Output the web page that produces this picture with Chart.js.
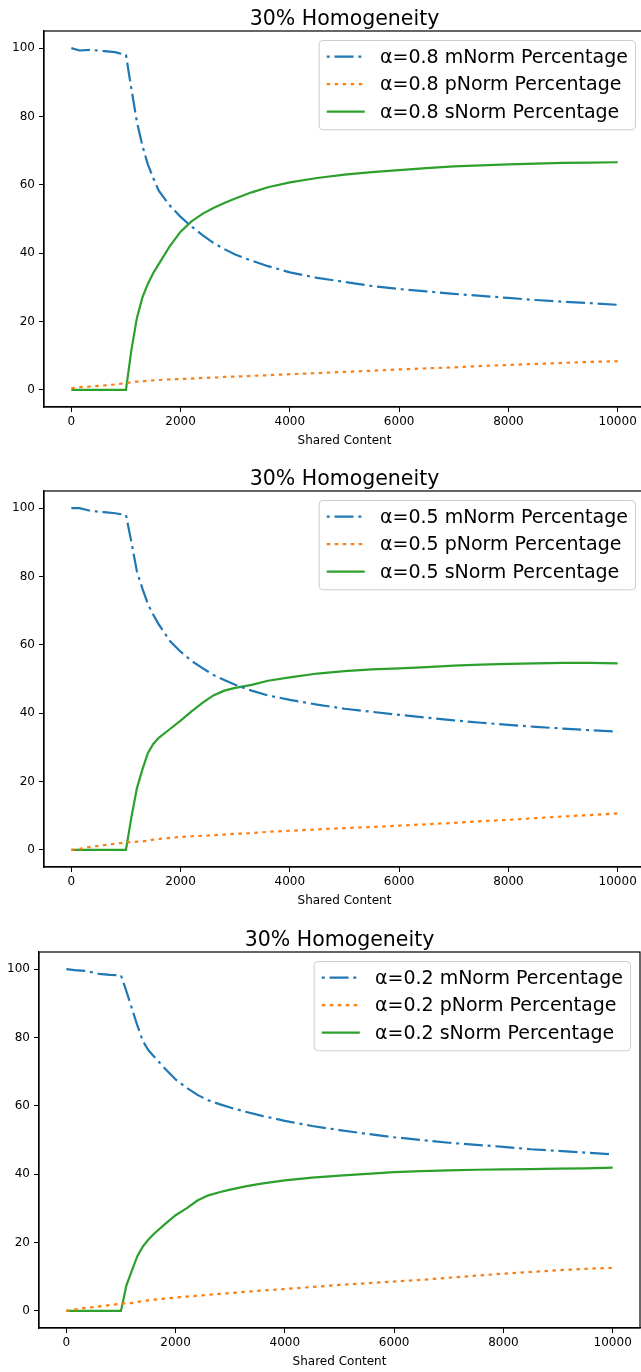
<!DOCTYPE html>
<html>
<head>
<meta charset="utf-8">
<script src="https://cdn.jsdelivr.net/npm/chart.js@4/dist/chart.umd.min.js"></script>
<style>
  body { margin: 0; width: 641px; height: 1372px; overflow: hidden; background: #fff; }
  canvas { position: absolute; }
</style>
</head>
<body>
<canvas id="c1" width="650" height="455" style="left:0;top:0"></canvas>
<canvas id="c2" width="650" height="455" style="left:0;top:460px"></canvas>
<canvas id="c3" width="650" height="455" style="left:-5px;top:921px"></canvas>
<script>
// shared x positions (Shared Content)
const sharedContent = [0, 150, 350, 600, 800, 1000, 1100, 1200, 1300, 1400, 1500, 1600, 1800, 2000, 2200, 2400, 2600, 2800, 3000, 3300, 3600, 4000, 4500, 5000, 5500, 6000, 6500, 7000, 7500, 8000, 8500, 9000, 9500, 10000];

// alpha = 0.8
const m08 = [100, 99.3, 99.5, 99.1, 98.8, 98.0, 88, 78.5, 71.5, 66, 62, 58.3, 54, 50.6, 47.8, 45.3, 43, 41.2, 39.6, 37.8, 36.2, 34.4, 32.8, 31.6, 30.4, 29.5, 28.8, 28.1, 27.5, 26.9, 26.3, 25.8, 25.4, 24.9];
const p08 = [0.5, 0.8, 1.0, 1.3, 1.6, 2.0, 2.2, 2.4, 2.5, 2.7, 2.8, 2.9, 3.1, 3.2, 3.3, 3.5, 3.6, 3.8, 3.9, 4.1, 4.3, 4.6, 4.9, 5.3, 5.6, 6.0, 6.3, 6.6, 7.0, 7.3, 7.6, 7.9, 8.2, 8.4];
const s08 = [0, 0, 0, 0, 0, 0, 11.7, 21, 27, 31, 34.2, 36.8, 42, 46.3, 49.3, 51.5, 53.2, 54.7, 56, 57.8, 59.3, 60.7, 62, 63, 63.7, 64.3, 64.9, 65.4, 65.7, 66, 66.2, 66.4, 66.5, 66.6];

// alpha = 0.5
const m05 = [100, 100, 99.2, 98.8, 98.5, 98, 90, 81.5, 76.5, 72, 68.8, 66, 61.2, 58, 55.3, 53.2, 51.2, 49.7, 48.3, 46.6, 45.2, 43.9, 42.5, 41.3, 40.4, 39.5, 38.7, 37.9, 37.2, 36.6, 36, 35.5, 35, 34.6];
const p05 = [0, 0.3, 0.9, 1.4, 1.8, 2.2, 2.3, 2.4, 2.5, 2.7, 3.0, 3.2, 3.5, 3.8, 4.0, 4.1, 4.3, 4.5, 4.7, 4.9, 5.3, 5.6, 6.0, 6.4, 6.7, 7.1, 7.5, 7.9, 8.4, 8.8, 9.3, 9.8, 10.2, 10.7];
const s05 = [0, 0, 0, 0, 0, 0, 9.6, 18, 23.5, 28.3, 31, 32.8, 35.3, 37.8, 40.5, 43, 45.2, 46.6, 47.4, 48.3, 49.5, 50.5, 51.6, 52.3, 52.8, 53.1, 53.5, 53.9, 54.2, 54.4, 54.6, 54.7, 54.7, 54.6];

// alpha = 0.2
const m02 = [100, 99.7, 99.5, 98.6, 98.3, 98.2, 93.5, 88.5, 83.5, 79, 76.3, 74.5, 71, 67.7, 65.3, 63.2, 61.6, 60.5, 59.5, 58.2, 57, 55.6, 54.1, 52.9, 51.8, 50.8, 50, 49.2, 48.6, 48, 47.3, 46.8, 46.3, 45.8];
const p02 = [0, 0.4, 0.9, 1.3, 1.7, 2.1, 2.2, 2.3, 2.6, 2.9, 3.1, 3.3, 3.6, 3.9, 4.2, 4.4, 4.7, 5.0, 5.2, 5.6, 6.0, 6.4, 7.0, 7.6, 8.1, 8.6, 9.1, 9.7, 10.3, 10.9, 11.4, 11.9, 12.3, 12.6];
const s02 = [0, 0, 0, 0, 0, 0, 7.5, 11.8, 16, 18.8, 20.8, 22.5, 25.3, 28, 30, 32.3, 33.8, 34.7, 35.5, 36.5, 37.3, 38.2, 39, 39.6, 40.1, 40.6, 40.9, 41.1, 41.3, 41.4, 41.5, 41.6, 41.7, 41.9];

const alphas = ["0.8", "0.5", "0.2"];
const xTicks = [0, 2000, 4000, 6000, 8000, 10000];
const yTicks = [0, 20, 40, 60, 80, 100];
const chartTitle = "30% Homogeneity";
const xTitle = "Shared Content";

Chart.defaults.font.family = '"DejaVu Sans", sans-serif';
Chart.defaults.font.size = 12;
Chart.defaults.color = "#000";

const toPoints = (ys) => sharedContent.map((x, i) => ({ x: x, y: ys[i] }));

const frameAndTitle = {
  id: "frameAndTitle",
  afterDraw(chart) {
    const { ctx, chartArea } = chart;
    ctx.save();
    ctx.strokeStyle = "#000";
    ctx.lineWidth = 1.2;
    ctx.strokeRect(chartArea.left, chartArea.top, chartArea.right - chartArea.left, chartArea.bottom - chartArea.top);
    ctx.font = '20.5px "DejaVu Sans"';
    ctx.fillStyle = "#000";
    ctx.textAlign = "center";
    ctx.textBaseline = "alphabetic";
    ctx.fillText(chartTitle, (chartArea.left + chartArea.right) / 2, 25);
    ctx.restore();
  }
};

// matplotlib-like legend in the upper right corner
const legendBox = {
  id: "legendBox",
  afterDraw(chart) {
    const { ctx, chartArea } = chart;
    const fs = 19;
    const pad = 0.4 * fs, handle = 2 * fs, gap = 0.8 * fs, spacing = 0.45 * fs;
    const sets = chart.data.datasets;
    ctx.save();
    ctx.font = fs + 'px "DejaVu Sans"';
    const textW = Math.max(...sets.map(d => ctx.measureText(d.label).width));
    const w = pad * 2 + handle + gap + textW;
    const h = pad * 2 + sets.length * fs + (sets.length - 1) * spacing;
    const right = chartArea.right - 0.5 * fs;
    const top = chartArea.top + 0.5 * fs;
    const left = right - w;
    ctx.beginPath();
    ctx.roundRect(left, top, w, h, 0.2 * fs);
    ctx.fillStyle = "rgba(255,255,255,0.8)";
    ctx.fill();
    ctx.strokeStyle = "#cccccc";
    ctx.lineWidth = 1;
    ctx.stroke();
    sets.forEach((d, i) => {
      const cy = top + pad + fs / 2 + i * (fs + spacing) - 1;
      ctx.beginPath();
      ctx.setLineDash(d.borderDash || []);
      ctx.lineDashOffset = d.legendDashOffset || 0;
      ctx.strokeStyle = d.borderColor;
      ctx.lineWidth = d.borderWidth;
      ctx.moveTo(left + pad, cy);
      ctx.lineTo(left + pad + handle, cy);
      ctx.stroke();
      ctx.setLineDash([]);
      ctx.fillStyle = "#000";
      ctx.textAlign = "left";
      ctx.textBaseline = "middle";
      ctx.fillText(d.label, left + pad + handle + gap, cy + 1);
    });
    ctx.restore();
  }
};

function makeChart(id, a, m, p, s) {
  new Chart(document.getElementById(id), {
    type: "line",
    data: {
      datasets: [
        { label: "α=" + a + " mNorm Percentage", data: toPoints(m), borderColor: "#1f77b4", borderWidth: 2.2, borderDash: [19, 4.8, 3, 4.8], legendDashOffset: 23.8 },
        { label: "α=" + a + " pNorm Percentage", data: toPoints(p), borderColor: "#ff7f0e", borderWidth: 2.2, borderDash: [3.5, 4.5] },
        { label: "α=" + a + " sNorm Percentage", data: toPoints(s), borderColor: "#2ca02c", borderWidth: 2.2 }
      ]
    },
    options: {
      responsive: false,
      animation: false,
      devicePixelRatio: 1,
      layout: { padding: { top: 31, right: 5, left: 0, bottom: 0 } },
      elements: { point: { radius: 0 }, line: { tension: 0, fill: false } },
      plugins: { legend: { display: false }, tooltip: { enabled: false }, title: { display: false } },
      scales: {
        x: {
          type: "linear",
          min: -500,
          max: 10500,
          afterBuildTicks: (axis) => { axis.ticks = xTicks.map(v => ({ value: v })); },
          afterFit: (scale) => { scale.height = 48; },
          ticks: { padding: 3, maxRotation: 0, autoSkip: false, callback: (v) => String(v) },
          grid: { drawOnChartArea: false, drawTicks: true, tickLength: 5, color: "#000", lineWidth: 1 },
          border: { display: true, color: "#000", width: 1.2 },
          title: { display: true, text: xTitle, font: { size: 12 }, padding: { top: 0, bottom: 7 } }
        },
        y: {
          type: "linear",
          min: -5,
          max: 105,
          afterBuildTicks: (axis) => { axis.ticks = yTicks.map(v => ({ value: v })); },
          afterFit: (scale) => { scale.width = 44; },
          ticks: { padding: 4, autoSkip: false, callback: (v) => String(v) },
          grid: { drawOnChartArea: false, drawTicks: true, tickLength: 5, color: "#000", lineWidth: 1 },
          border: { display: true, color: "#000", width: 1.2 }
        }
      }
    },
    plugins: [frameAndTitle, legendBox]
  });
}

makeChart("c1", alphas[0], m08, p08, s08);
makeChart("c2", alphas[1], m05, p05, s05);
makeChart("c3", alphas[2], m02, p02, s02);
</script>
</body>
</html>
